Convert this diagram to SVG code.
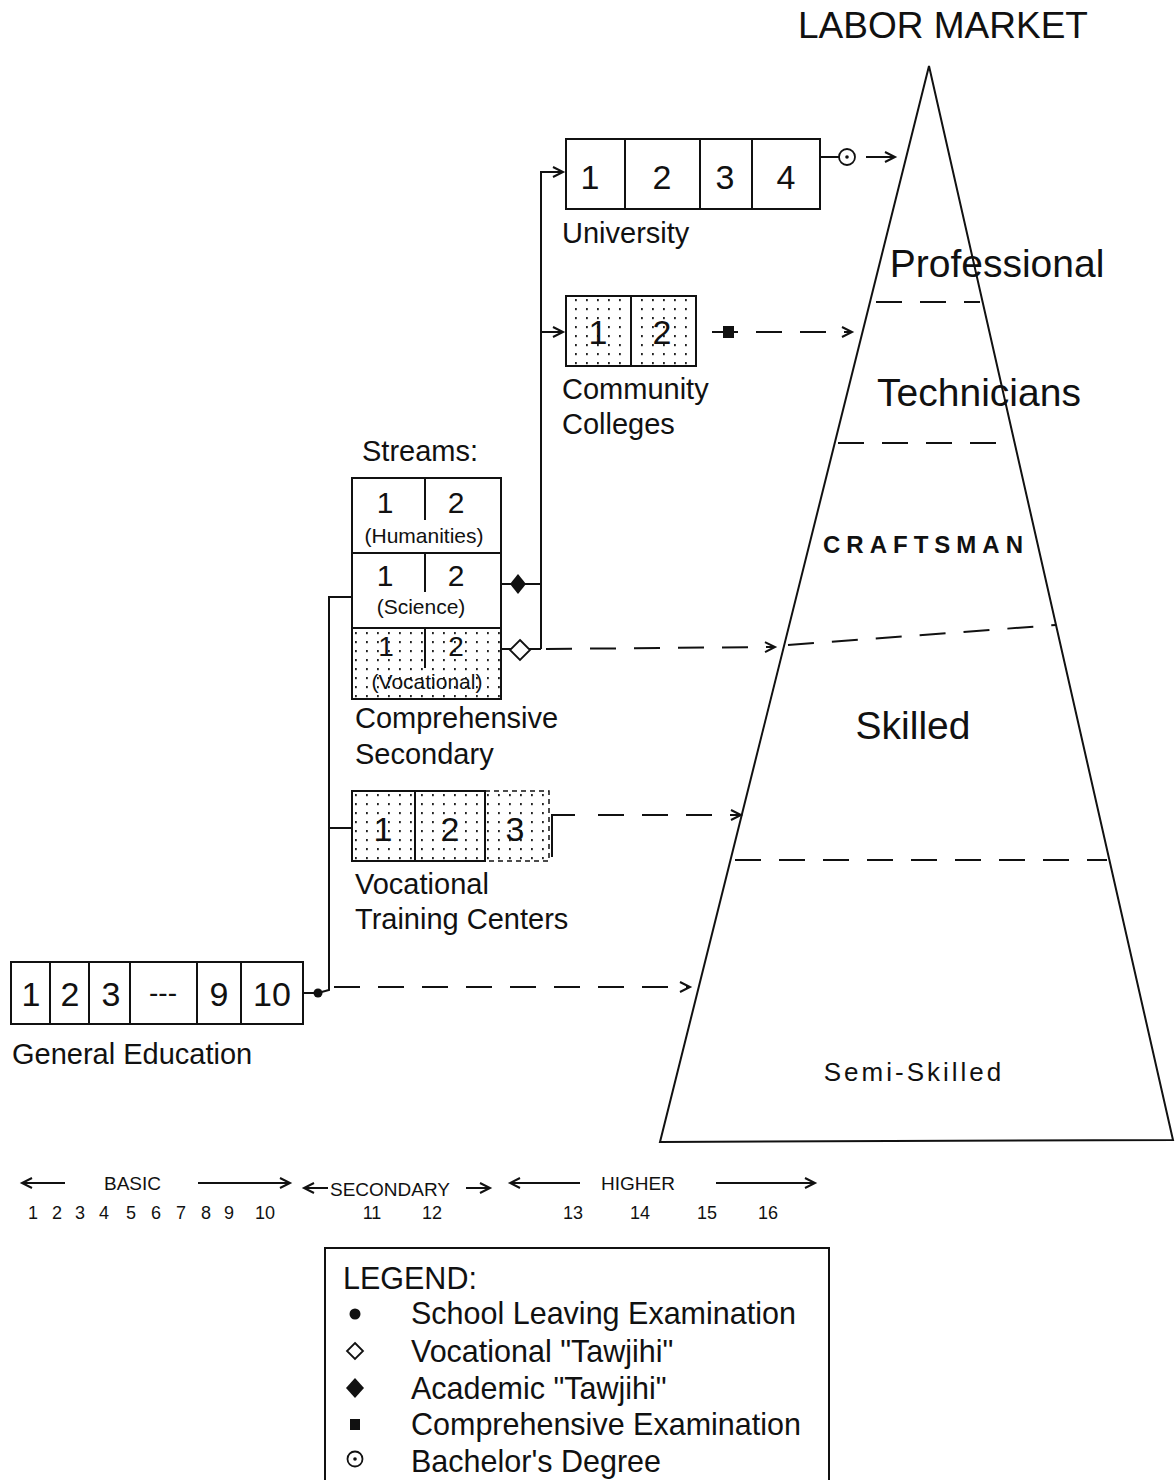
<svg xmlns="http://www.w3.org/2000/svg" width="1175" height="1480" viewBox="0 0 1175 1480">
<style>
text{font-family:"Liberation Sans",Arial,sans-serif;fill:#111}
.box{fill:none;stroke:#111;stroke-width:2}
.dot{fill:url(#dots);stroke:#111;stroke-width:2}
.ln{fill:none;stroke:#111;stroke-width:2}
.dash{fill:none;stroke:#111;stroke-width:2;stroke-dasharray:26 18}
.num{font-size:34px;text-anchor:middle}
.snum{font-size:30px;text-anchor:middle}
.par{font-size:21px;text-anchor:middle}
.lbl{font-size:29px}
.pl{font-size:39px;text-anchor:middle}
.tl{font-size:19px}
.tn{font-size:18px;text-anchor:middle}
.lg{font-size:30.5px}
</style>
<defs>
<pattern id="dots" width="11" height="9" patternUnits="userSpaceOnUse">
<rect x="3" y="2" width="1.8" height="2.2" fill="#222"/>
</pattern>
<marker id="arr" markerWidth="14" markerHeight="12" refX="11" refY="6" orient="auto" markerUnits="userSpaceOnUse">
<path d="M1,1 L11,6 L1,11" fill="none" stroke="#111" stroke-width="2"/>
</marker>
</defs>
<rect width="1175" height="1480" fill="#fff"/>

<g id="labor-market">
<text x="943" y="38" font-size="37" text-anchor="middle">LABOR MARKET</text>
<path d="M929,66 L660,1142 L1173,1140 Z" class="ln"/>
<path d="M876,302 H980" class="dash"/>
<path d="M838,443 H1012" class="dash"/>
<path d="M788,645 L1056,625" class="dash"/>
<path d="M735,860 H1107" class="dash"/>
<text x="997" y="277" class="pl">Professional</text>
<text x="979" y="406" class="pl">Technicians</text>
<text x="926" y="553" font-size="24" font-weight="bold" letter-spacing="6" text-anchor="middle">CRAFTSMAN</text>
<text x="913" y="739" class="pl">Skilled</text>
<text x="914" y="1081" font-size="26" letter-spacing="3" text-anchor="middle">Semi-Skilled</text>
</g>

<g id="university">
<rect x="566" y="139" width="254" height="70" class="box"/>
<path d="M625,139 V209 M700,139 V209 M752,139 V209" class="ln"/>
<text x="590" y="189" class="num">1</text>
<text x="662" y="189" class="num">2</text>
<text x="725" y="189" class="num">3</text>
<text x="786" y="189" class="num">4</text>
<text x="562" y="243" class="lbl">University</text>
</g>

<g id="community-colleges">
<rect x="566" y="296" width="130" height="70" class="dot"/>
<path d="M631,296 V366" class="ln"/>
<text x="598" y="344" class="num">1</text>
<text x="662" y="344" class="num">2</text>
<text x="562" y="399" class="lbl">Community</text>
<text x="562" y="434" class="lbl">Colleges</text>
</g>

<g id="comprehensive-secondary">
<text x="362" y="461" class="lbl">Streams:</text>
<rect x="352" y="478" width="149" height="75" class="box"/>
<rect x="352" y="553" width="149" height="75" class="box"/>
<rect x="352" y="628" width="149" height="71" class="dot"/>
<path d="M425,478 V520 M425,553 V592 M425,628 V668" class="ln"/>
<text x="385" y="513" class="snum">1</text>
<text x="456" y="513" class="snum">2</text>
<text x="424" y="543" class="par">(Humanities)</text>
<text x="385" y="586" class="snum">1</text>
<text x="456" y="586" class="snum">2</text>
<text x="421" y="614" class="par">(Science)</text>
<text x="386" y="656" font-size="28" text-anchor="middle">1</text>
<text x="456" y="656" font-size="28" text-anchor="middle">2</text>
<text x="427" y="689" class="par">(Vocational)</text>
<text x="355" y="728" class="lbl">Comprehensive</text>
<text x="355" y="764" class="lbl">Secondary</text>
</g>

<g id="vocational-training-centers">
<rect x="352" y="791" width="133" height="70" class="dot"/>
<path d="M415,791 V861" class="ln"/>
<rect x="485" y="791" width="64" height="70" fill="url(#dots)" stroke="#111" stroke-width="1.5" stroke-dasharray="5 4"/>
<text x="383" y="841" class="num">1</text>
<text x="450" y="841" class="num">2</text>
<text x="515" y="841" class="num">3</text>
<text x="355" y="894" class="lbl">Vocational</text>
<text x="355" y="929" class="lbl">Training Centers</text>
</g>

<g id="general-education">
<rect x="11" y="962" width="292" height="62" class="box"/>
<path d="M50,962 V1024 M89,962 V1024 M130,962 V1024 M197,962 V1024 M241,962 V1024" class="ln"/>
<text x="31" y="1006" class="num">1</text>
<text x="70" y="1006" class="num">2</text>
<text x="111" y="1006" class="num">3</text>
<text x="163" y="1002" font-size="28" text-anchor="middle">---</text>
<text x="219" y="1006" class="num">9</text>
<text x="272" y="1006" class="num">10</text>
<text x="12" y="1064" class="lbl">General Education</text>
</g>

<g id="connectors">
<path d="M303,993 H318 L329,990 V597 H352" class="ln"/>
<path d="M329,828 H352" class="ln"/>
<circle cx="318" cy="993" r="4.5" fill="#111"/>
<path d="M334,987 H690" class="dash" marker-end="url(#arr)"/>
<path d="M501,584 H541 M501,649 H541" class="ln"/>
<path d="M541,649 V172 H563" class="ln" marker-end="url(#arr)"/>
<path d="M541,332 H563" class="ln" marker-end="url(#arr)"/>
<path d="M518,574 L526,584 L518,594 L510,584 Z" fill="#111"/>
<path d="M520,640 L530,650 L520,660 L510,650 Z" fill="#fff" stroke="#111" stroke-width="1.8"/>
<path d="M546,649 L775,647" class="dash" marker-end="url(#arr)"/>
<path d="M552,857 V815 H575" class="ln"/>
<path d="M598,815 H741" class="dash" marker-end="url(#arr)"/>
<path d="M820,157 H839" class="ln"/>
<circle cx="847" cy="157" r="8" fill="#fff" stroke="#111" stroke-width="1.8"/>
<circle cx="847" cy="157" r="1.8" fill="#111"/>
<path d="M866,157 H895" class="ln" marker-end="url(#arr)"/>
<path d="M712,332 H852" class="dash" marker-end="url(#arr)"/>
<rect x="723" y="326" width="11" height="12" fill="#111"/>
</g>

<g id="timeline">
<path d="M65,1183 H22" class="ln" marker-end="url(#arr)"/>
<text x="104" y="1190" class="tl">BASIC</text>
<path d="M198,1183 H290" class="ln" marker-end="url(#arr)"/>
<path d="M328,1188 H304" class="ln" marker-end="url(#arr)"/>
<text x="330" y="1196" class="tl">SECONDARY</text>
<path d="M466,1188 H490" class="ln" marker-end="url(#arr)"/>
<path d="M580,1183 H510" class="ln" marker-end="url(#arr)"/>
<text x="601" y="1190" class="tl">HIGHER</text>
<path d="M716,1183 H815" class="ln" marker-end="url(#arr)"/>
<text x="33" y="1219" class="tn">1</text>
<text x="57" y="1219" class="tn">2</text>
<text x="80" y="1219" class="tn">3</text>
<text x="104" y="1219" class="tn">4</text>
<text x="131" y="1219" class="tn">5</text>
<text x="156" y="1219" class="tn">6</text>
<text x="181" y="1219" class="tn">7</text>
<text x="206" y="1219" class="tn">8</text>
<text x="229" y="1219" class="tn">9</text>
<text x="265" y="1219" class="tn">10</text>
<text x="372" y="1219" class="tn">11</text>
<text x="432" y="1219" class="tn">12</text>
<text x="573" y="1219" class="tn">13</text>
<text x="640" y="1219" class="tn">14</text>
<text x="707" y="1219" class="tn">15</text>
<text x="768" y="1219" class="tn">16</text>
</g>

<g id="legend">
<rect x="325" y="1248" width="504" height="250" class="box"/>
<text x="343" y="1289" class="lg">LEGEND:</text>
<circle cx="355" cy="1314" r="5.5" fill="#111"/>
<text x="411" y="1324" class="lg">School Leaving Examination</text>
<path d="M355,1343 L363,1351 L355,1359 L347,1351 Z" fill="#fff" stroke="#111" stroke-width="1.8"/>
<text x="411" y="1362" class="lg">Vocational "Tawjihi"</text>
<path d="M355,1378 L364,1388 L355,1398 L346,1388 Z" fill="#111"/>
<text x="411" y="1399" class="lg">Academic "Tawjihi"</text>
<rect x="350" y="1419" width="10" height="11" fill="#111"/>
<text x="411" y="1435" class="lg">Comprehensive Examination</text>
<circle cx="355" cy="1459" r="7.5" fill="none" stroke="#111" stroke-width="1.8"/>
<circle cx="355" cy="1459" r="1.8" fill="#111"/>
<text x="411" y="1472" class="lg">Bachelor's Degree</text>
</g>
</svg>
